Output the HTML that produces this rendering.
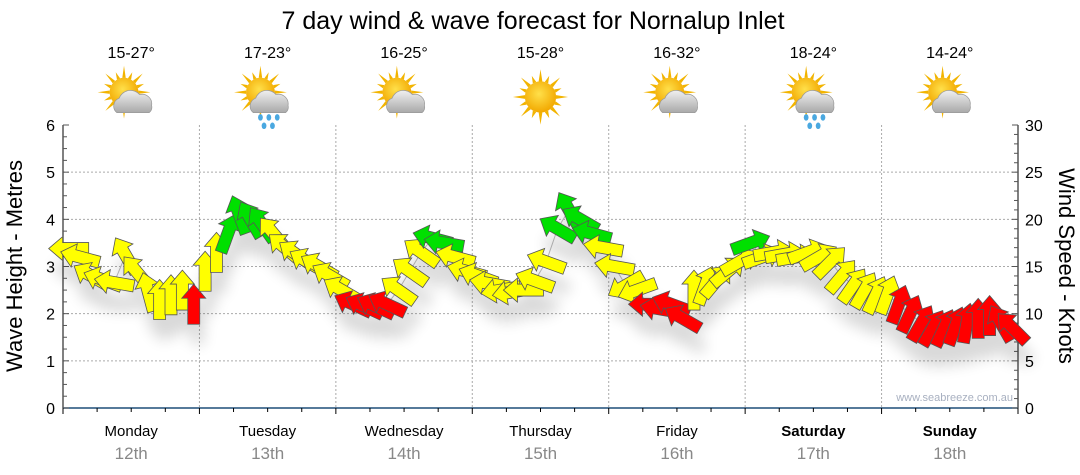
<!DOCTYPE html>
<html><head><meta charset="utf-8">
<style>
html,body{margin:0;padding:0;background:#fff;}
svg{display:block;font-family:"Liberation Sans",sans-serif;}
</style></head>
<body>
<svg id="chart" width="1080" height="475" viewBox="0 0 1080 475">
<defs>
<filter id="shadow" x="-50%" y="-50%" width="200%" height="250%">
<feGaussianBlur in="SourceAlpha" stdDeviation="7"/>
<feOffset dx="4" dy="20" result="o"/>
<feComponentTransfer><feFuncA type="linear" slope="0.15"/></feComponentTransfer>
<feMerge><feMergeNode/><feMergeNode in="SourceGraphic"/></feMerge>
</filter>
<radialGradient id="sunG" cx="0.45" cy="0.4" r="0.6"><stop offset="0" stop-color="#ffe04a"/><stop offset="1" stop-color="#f2a800"/></radialGradient>
<linearGradient id="cloudG" x1="0" y1="0" x2="0" y2="1"><stop offset="0" stop-color="#f0f0f0"/><stop offset="1" stop-color="#a9a9a9"/></linearGradient>
</defs>
<text x="533" y="29" text-anchor="middle" font-size="25" fill="#000">7 day wind &amp; wave forecast for Nornalup Inlet</text>
<g id="grid"></g>
<g id="axes"></g>
<g id="icons"></g>
<g id="marks" filter="url(#shadow)"></g>
<text x="1013" y="401" text-anchor="end" font-size="11" fill="#a8b0c0">www.seabreeze.com.au</text>
<text transform="translate(22,266) rotate(-90)" text-anchor="middle" font-size="22" fill="#000">Wave Height - Metres</text>
<text transform="translate(1059,266) rotate(90)" text-anchor="middle" font-size="22" fill="#000">Wind Speed - Knots</text>
</svg>
<script>
const days = ["Monday","Tuesday","Wednesday","Thursday","Friday","Saturday","Sunday"];
const dates = ["12th","13th","14th","15th","16th","17th","18th"];
const temps = ["15-27°","17-23°","16-25°","15-28°","16-32°","18-24°","14-24°"];
const weather = ["cloud","rain","cloud","sun","cloud","rain","cloud"];
const waveTicks = [0,1,2,3,4,5,6];
const windTicks = [0,5,10,15,20,25,30];
// wind speed (knots), every 2 hours starting Monday 00:00
const speeds = [
16.9,16.0,14.0,13.6,13.3,16.2,14.4,12.3,11.5,12.0,12.5,11.0,
14.5,16.5,18.5,20.5,20.0,19.5,18.5,17.0,16.3,15.5,15.0,14.0,
12.5,11.0,10.8,10.8,11.0,12.5,14.5,16.5,18.0,17.5,16.0,14.5,
14.0,13.2,12.5,12.3,12.5,13.5,15.5,19.0,21.0,20.0,18.5,17.0,
15.0,13.0,12.5,11.0,10.5,11.0,9.5,12.5,13.0,13.5,14.5,15.5,
17.5,16.0,16.5,16.3,16.0,16.5,16.0,15.5,14.0,13.0,12.5,12.0,
12.0,11.0,10.0,9.0,8.5,8.5,8.7,9.0,9.5,9.8,9.0,8.5];
// arrow pointing direction, degrees clockwise from up
const dirs = [
270,285,300,290,280,330,320,345,0,0,0,0,
0,0,20,340,330,325,320,310,305,300,300,300,
300,295,295,295,295,305,305,305,285,280,285,285,
290,280,260,260,270,290,290,300,330,300,285,280,
280,240,250,270,280,290,300,0,20,40,50,60,
70,70,80,80,80,70,60,45,40,35,30,25,
20,20,25,30,30,25,20,10,0,0,330,315];
// colour category: y=yellow g=green r=red
const cats = [
"y","y","y","y","y","y","y","y","y","y","y","r",
"y","y","g","g","g","g","y","y","y","y","y","y",
"y","r","r","r","r","y","y","y","g","g","y","y",
"y","y","y","y","y","y","y","g","g","g","g","y",
"y","y","y","r","r","r","r","y","y","y","y","y",
"g","y","y","y","y","y","y","y","y","y","y","y",
"y","r","r","r","r","r","r","r","r","r","r","r"];

const NS="http://www.w3.org/2000/svg";
const X0=63, X1=1018, Y0=408, Y1=125;
const dayW=(X1-X0)/7;
const yWave=v=>Y0-(v/6)*(Y0-Y1);
const yWind=v=>Y0-(v/30)*(Y0-Y1);
const xTime=h=>X0+(h/24)*dayW;
function mk(tag,attrs,parent){const e=document.createElementNS(NS,tag);for(const k in attrs)e.setAttribute(k,attrs[k]);parent.appendChild(e);return e;}
const grid=document.getElementById('grid'),axes=document.getElementById('axes'),icons=document.getElementById('icons'),marks=document.getElementById('marks');

waveTicks.forEach(v=>{
  if(v>0&&v<6){const l=mk('line',{x1:X0,x2:X1,y1:yWave(v),y2:yWave(v),stroke:'#aaa','stroke-dasharray':'2,2'},grid);
  
  }
});
for(let d=1;d<7;d++){const l=mk('line',{x1:X0+d*dayW,x2:X0+d*dayW,y1:Y1,y2:Y0,stroke:'#aaa','stroke-dasharray':'2,2'},grid);
  
  }

mk('line',{x1:X0,x2:X0,y1:Y1,y2:Y0+1,stroke:'#000'},axes);
mk('line',{x1:X1,x2:X1,y1:Y1,y2:Y0+1,stroke:'#000'},axes);
mk('line',{x1:X0,x2:X1,y1:Y0,y2:Y0,stroke:'#1f4e79','stroke-width':1.5},axes);
for(let i=0;i<=24;i++){const y=Y0-i*(Y0-Y1)/24;mk('line',{x1:X0,x2:X0+(i%4?4:6),y1:y,y2:y,stroke:'#555'},axes);}
for(let i=0;i<=30;i++){const y=yWind(i);mk('line',{x1:X1,x2:X1-(i%5?4:6),y1:y,y2:y,stroke:'#555'},axes);}
waveTicks.forEach(v=>{const t=mk('text',{x:X0-8,y:yWave(v)+6,'text-anchor':'end','font-size':16,fill:'#000'},axes);t.textContent=v;
  
  });
windTicks.forEach(v=>{const t=mk('text',{x:X1+7,y:yWind(v)+6,'font-size':16,fill:'#000'},axes);t.textContent=v;
  
  });
for(let i=0;i<=28;i++){const x=X0+i*dayW/4;mk('line',{x1:x,x2:x,y1:Y0,y2:Y0+(i%4?4:6),stroke:'#000'},axes);}

days.forEach((d,i)=>{
  const cx=X0+(i+0.5)*dayW;
  const t=mk('text',{x:cx,y:436,'text-anchor':'middle','font-size':15,fill:'#000','font-weight':i>=5?'bold':'normal'},axes);t.textContent=d;
  
  
  const t2=mk('text',{x:cx,y:459,'text-anchor':'middle','font-size':17,fill:'#888'},axes);t2.textContent=dates[i];
  
  
  const t3=mk('text',{x:cx,y:58,'text-anchor':'middle','font-size':16,fill:'#000'},icons);t3.textContent=temps[i];
  
  
  const g=mk('g',{transform:`translate(${cx},97) scale(1.2)`},icons);
  
  
  const sx=weather[i]==='sun'?0:-6, sy=weather[i]==='sun'?0:-4, r=weather[i]==='sun'?13:12;
  for(let k=0;k<16;k++){const a=k*Math.PI/8;const L=k%2?r+6:r+10;
    mk('polygon',{points:`${sx+Math.cos(a-0.12)*r},${sy+Math.sin(a-0.12)*r} ${sx+Math.cos(a)*L},${sy+Math.sin(a)*L} ${sx+Math.cos(a+0.12)*r},${sy+Math.sin(a+0.12)*r}`,fill:'#f2b400'},g);}
  mk('circle',{cx:sx,cy:sy,r:r,fill:'url(#sunG)'},g);
  if(weather[i]!=='sun'){
    mk('path',{d:'M-12,13 a7,7 0 0 1 2,-12 a10,10 0 0 1 17,-3 a8,8 0 0 1 10,9 a6,6 0 0 1 -2,6 z',fill:'url(#cloudG)',stroke:'#999','stroke-width':0.6},g);
  }
  if(weather[i]==='rain'){
    [[-6,17],[1,17],[8,17],[-3,24],[4,24]].forEach(p=>mk('ellipse',{cx:p[0],cy:p[1],rx:2,ry:2.7,fill:'#4aa8e0'},g));
  }
});

let pts=speeds.map((s,i)=>`${xTime(i*2+1)},${yWind(s)}`).join(' ');
const pl=mk('polyline',{points:pts,fill:'none',stroke:'#bbb','stroke-width':1},grid);



const colors={y:'#ffff00',g:'#00e000',r:'#ff0000'};
const arrowPath='M0,-20 L12,-6 L6,-6 L6,20 L-6,20 L-6,-6 L-12,-6 Z';
speeds.forEach((s,i)=>{
  const x=xTime(i*2+1), y=yWind(s);
  const p=mk('path',{d:arrowPath,transform:`translate(${x},${y}) rotate(${dirs[i]})`,fill:colors[cats[i]],stroke:'#555','stroke-width':0.8,'stroke-linejoin':'miter'},marks);
  
  
});
</script>
</body></html>
